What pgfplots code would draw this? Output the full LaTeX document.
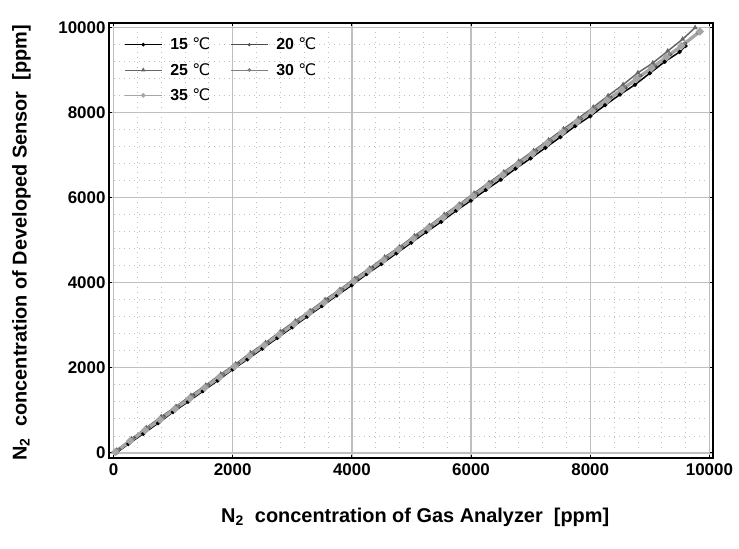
\documentclass[border=0pt]{standalone}
\usepackage{fontspec}
\setmainfont{Liberation Sans}
\newfontfamily\dejavu{DejaVu Sans}
\usepackage{pgfplots}
\pgfplotsset{compat=1.18}
\usetikzlibrary{calc}
\newcommand{\degC}{{\dejavu\mdseries ℃}}
\begin{document}
\begin{tikzpicture}
\begin{axis}[
 scale only axis, width=604bp, height=435bp,
 xmin=-75, xmax=10060, ymin=-120, ymax=10100,
 xtick={0,2000,...,10000}, ytick={0,2000,...,10000},
 minor tick num=4,
 grid=both,
 major grid style={line width=1.3pt, color=black!25},
 minor grid style={dash pattern=on 1bp off 4bp, color=black!25, line width=0.7pt},
 axis line style={line width=1.3pt},
 tick style={black, line width=0.8pt}, major tick length=3pt, minor tick length=0pt,
 tick align=inside,
 ticklabel style={font=\fontsize{17}{17}\selectfont\bfseries},
 /pgf/number format/assume math mode=true,
 scaled ticks=false, /pgf/number format/1000 sep={},
 xticklabel style={yshift=-2bp},
 xlabel={N\textsubscript{2}\ \ concentration of Gas Analyzer\ \ [ppm]},
 ylabel={N\textsubscript{2}\ \ concentration of Developed Sensor\ \ [ppm]},
 label style={font=\fontsize{20}{20}\selectfont\bfseries},
 xlabel style={at={(rel axis cs:0.507,-0.136)}, anchor=center},
 ylabel style={at={(rel axis cs:-0.145,0.495)}, anchor=center},
 legend style={at={(rel axis cs:0.02,0.975)}, anchor=north west, draw=none, fill=none,
   font=\fontsize{16}{16}\selectfont\bfseries, row sep=8bp,
   /tikz/every odd column/.append style={column sep=6bp},
   /tikz/every even column/.append style={column sep=18bp}},
 legend columns=2,
 legend cell align=left,
 legend image code/.code={\draw[mark repeat=2,mark phase=2,#1,line width=1pt] plot coordinates {(0bp,0bp) (18.5bp,0bp) (37bp,0bp)};},
]
\coordinate (fsw) at (rel axis cs:0,0);
\coordinate (fne) at (rel axis cs:1,1);

\addplot[black, line width=1.5pt, mark=*, mark size=1.3pt] coordinates {
(50,0) (250,210) (500,450) (750,700) (1000,960) (1250,1200) (1500,1450) (1750,1700)
(2000,1960) (2250,2200) (2500,2450) (2750,2700) (3000,2950) (3250,3200) (3500,3450)
(3750,3700) (4000,3940) (4250,4200) (4500,4440) (4750,4690) (5000,4940) (5250,5190)
(5500,5430) (5750,5690) (6000,5930) (6250,6180) (6500,6420) (6750,6680) (7000,6920)
(7250,7170) (7500,7420) (7750,7680) (8000,7910) (8250,8170) (8500,8420) (8750,8650)
(9000,8920) (9250,9190) (9500,9420) (9600,9560)
};
\addlegendentry{15 \degC}

\addplot[black!70, line width=1pt, mark=*, mark size=1pt] coordinates {
(100,90) (350,360) (600,590) (850,860) (1100,1090) (1350,1360) (1600,1600) (1850,1840)
(2100,2110) (2350,2340) (2600,2600) (2850,2860) (3100,3090) (3350,3340) (3600,3610)
(3850,3840) (4100,4090) (4350,4360) (4600,4590) (4850,4840) (5100,5110) (5350,5330)
(5600,5600) (5850,5840) (6100,6090) (6350,6360) (6600,6580) (6850,6840) (7100,7100)
(7350,7330) (7600,7590) (7850,7850) (8100,8080) (8350,8360) (8600,8580) (8850,8860)
(9100,9080) (9350,9360) (9600,9620)
};
\addlegendentry{20 \degC}

\addplot[black!60, line width=1.5pt, mark=triangle*, mark size=1.6pt] coordinates {
(50,60) (300,330) (550,590) (800,850) (1050,1090) (1300,1350) (1550,1590) (1800,1850)
(2050,2090) (2300,2350) (2550,2590) (2800,2850) (3050,3100) (3300,3340) (3550,3600)
(3800,3840) (4050,4100) (4300,4340) (4550,4600) (4800,4840) (5050,5100) (5300,5340)
(5550,5600) (5800,5840) (6050,6100) (6300,6350) (6550,6600) (6800,6850) (7050,7100)
(7300,7350) (7550,7610) (7800,7860) (8050,8120) (8300,8390) (8550,8650) (8800,8930)
(9050,9160) (9300,9440) (9550,9720) (9760,9990)
};
\addlegendentry{25 \degC}

\addplot[black!50, line width=1pt, mark=*, mark size=1.3pt] coordinates {
(80,80) (330,340) (580,590) (830,840) (1080,1090) (1330,1330) (1580,1590) (1830,1840)
(2080,2080) (2330,2340) (2580,2590) (2830,2830) (3080,3090) (3330,3340) (3580,3580)
(3830,3840) (4080,4090) (4330,4330) (4580,4590) (4830,4840) (5080,5080) (5330,5340)
(5580,5590) (5830,5830) (6080,6090) (6330,6340) (6580,6580) (6830,6840) (7080,7090)
(7330,7340) (7580,7590) (7830,7850) (8080,8100) (8330,8350) (8580,8610) (8830,8860)
(9080,9110) (9330,9370) (9580,9620) (9800,9870)
};
\addlegendentry{30 \degC}

\addplot[black!35, line width=3.4pt, mark=*, mark size=1.8pt] coordinates {
(30,20) (280,280) (530,530) (780,780) (1030,1030) (1280,1280) (1530,1530) (1780,1780)
(2030,2030) (2280,2280) (2530,2530) (2780,2780) (3030,3030) (3280,3280) (3530,3530)
(3780,3780) (4030,4030) (4280,4280) (4530,4530) (4780,4780) (5030,5030) (5280,5280)
(5530,5530) (5780,5780) (6030,6030) (6280,6280) (6530,6530) (6780,6780) (7030,7030)
(7280,7280) (7530,7530) (7780,7780) (8030,8030) (8280,8280) (8530,8530) (8780,8790)
(9030,9040) (9280,9300) (9530,9560) (9840,9900)
};
\addlegendentry{35 \degC}
\end{axis}
\pgfresetboundingbox
\path ($(fsw)+(-109bp,-91bp)$) rectangle ($(fne)+(26bp,23bp)$);
\end{tikzpicture}
\end{document}
